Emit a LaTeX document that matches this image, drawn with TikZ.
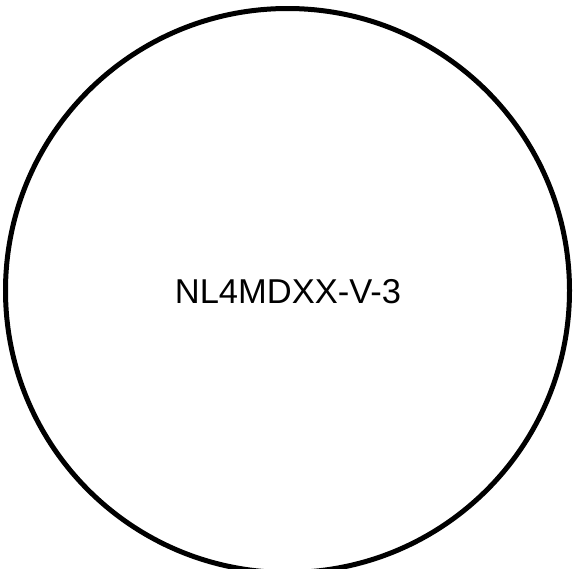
\documentclass[tikz,border=0pt]{standalone}
\usepackage{fontspec}
\setmainfont{Liberation Sans}
\begin{document}
\begin{tikzpicture}[x=1pt,y=-1pt,
  ring/.style={circle,draw=black,line width=5pt,minimum size=564pt,inner sep=0pt},
  lbl/.style={font=\fontsize{34.5}{40}\selectfont,inner sep=0pt}]
\useasboundingbox (0,0) rectangle (573,568);
\fill[white] (0,0) rectangle (573,568);
\clip (0,0) rectangle (573,568);
\node[ring] (c) at (287.5,290.5) {};
\node[lbl] (t) at (288,292) {NL4MDXX-V-3};
\end{tikzpicture}
\end{document}
